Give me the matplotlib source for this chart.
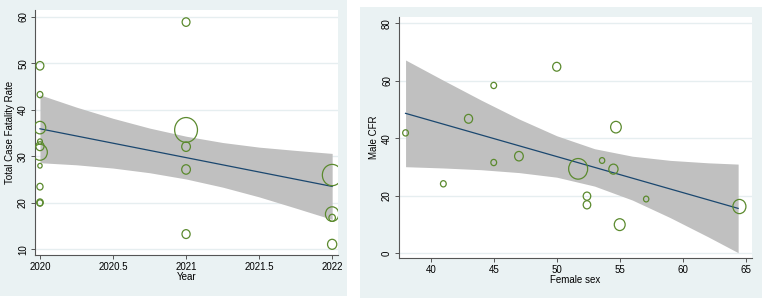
import matplotlib
matplotlib.use("Agg")
import matplotlib.pyplot as plt
from matplotlib.patches import Rectangle
from matplotlib.path import Path
import numpy as np

plt.rcParams['font.family'] = ['Liberation Sans', 'DejaVu Sans']

# ---------------- Left panel data ----------------
year = [2020, 2020, 2020, 2020, 2020, 2020, 2020, 2020, 2020, 2020,
        2021, 2021, 2021, 2021, 2021,
        2022, 2022, 2022, 2022]
total_cfr = [49.5, 43.3, 36.2, 33.2, 32.2, 30.9, 28.0, 23.5, 20.1, 20.0,
             58.9, 35.7, 32.1, 27.2, 13.3,
             26.0, 17.6, 16.8, 11.1]
weight_left = [13, 7, 28, 5, 14, 46, 4, 8, 9, 7,
               13, 110, 16, 16, 14,
               81, 38, 9, 18]
fit_left_x = [2020, 2022]
fit_left_y = [35.95, 23.55]
ci_left_x = [2020, 2020.25, 2020.5, 2020.75, 2021, 2021.25, 2021.5, 2021.75, 2022]
ci_left_hi = [43.25, 40.6, 38.2, 36.1, 34.35, 33.0, 32.0, 31.3, 30.65]
ci_left_lo = [28.65, 28.2, 27.5, 26.5, 25.15, 23.4, 21.3, 18.9, 16.45]
left_xticks = [2020, 2020.5, 2021, 2021.5, 2022]
left_xticklabels = ["2020", "2020.5", "2021", "2021.5", "2022"]
left_yticks = [10, 20, 30, 40, 50, 60]

# ---------------- Right panel data ----------------
female = [38.0, 41.0, 43.0, 45.0, 45.0, 47.0, 50.0, 51.7, 52.4, 52.4,
          53.6, 54.5, 54.7, 55.0, 57.1, 64.5]
male_cfr = [41.9, 24.2, 46.8, 58.4, 31.6, 33.8, 64.9, 29.4, 19.9, 16.9,
            32.3, 29.3, 43.9, 10.0, 18.9, 16.3]
weight_right = [7, 7, 14, 7, 7, 16, 14, 76, 12, 12,
                6, 18, 24, 25, 6, 36]
fit_right_x = [38.0, 64.4]
fit_right_y = [48.7, 15.65]
ci_right_x = [38, 41, 44, 47, 50, 53, 56, 59, 62, 64.4]
ci_right_hi = [67.25, 60.2, 53.3, 46.75, 40.9, 36.4, 33.8, 32.35, 31.5, 31.05]
ci_right_lo = [30.15, 29.7, 29.1, 28.1, 26.5, 23.4, 18.55, 12.45, 5.8, 0.25]
right_xticks = [40, 45, 50, 55, 60, 65]
right_yticks = [0, 20, 40, 60, 80]

# ---------------- Styling ----------------
BG = '#eaf2f3'
GRID = '#e6eef0'
MARKER = '#5b8a2e'
LINE = '#1a476f'
CI = '#c0c0c0'
AXC = '#555555'
FS = 7
MSCALE = 2.9

W, H = 762, 300
fig = plt.figure(figsize=(W / 100, H / 100), dpi=100)
fig.patch.set_facecolor('white')

def px_rect(x0, y0, x1, y1):
    return (x0 / W, 1 - y1 / H, (x1 - x0) / W, (y1 - y0) / H)

for (x0, y0, x1, y1) in [(0, 0, 347, 296), (360, 7, 762, 298)]:
    l, b, w, h = px_rect(x0, y0, x1, y1)
    fig.add_artist(Rectangle((l, b), w, h, transform=fig.transFigure,
                             facecolor=BG, edgecolor='none', zorder=0))

# slightly tall ellipse marker (as in reference)
circ = Path.unit_circle()
ell = Path(circ.vertices * np.array([0.92, 1.0]), circ.codes)

def style(ax):
    ax.set_facecolor('white')
    for s in ['top', 'right']:
        ax.spines[s].set_visible(False)
    for s in ['left', 'bottom']:
        ax.spines[s].set_color(AXC)
        ax.spines[s].set_linewidth(0.8)
    ax.tick_params(axis='both', direction='out', length=3, width=0.7,
                   color=AXC, labelsize=FS, pad=2)
    ax.tick_params(axis='y', labelrotation=90)
    for lab in ax.get_yticklabels():
        lab.set_va('center')
    ax.grid(axis='y', color=GRID, linewidth=1.0)
    ax.set_axisbelow(True)

def panel(rect_px, x, y, wts, fx, fy, cx, chi, clo, xlim, ylim, xticks, yticks,
          xlabel, ylabel, xticklabels=None):
    ax = fig.add_axes(px_rect(*rect_px))
    ax.fill_between(cx, clo, chi, color=CI, linewidth=0, zorder=1)
    ax.plot(fx, fy, color=LINE, linewidth=0.9, zorder=2)
    sizes = [MSCALE * w for w in wts]
    ax.scatter(x, y, s=sizes, marker=ell, facecolors='none',
               edgecolors=MARKER, linewidths=0.9, zorder=3)
    ax.set_xlim(*xlim)
    ax.set_ylim(*ylim)
    ax.set_xticks(xticks)
    if xticklabels is not None:
        ax.set_xticklabels(xticklabels)
    ax.set_yticks(yticks)
    style(ax)
    ax.set_xlabel(xlabel, fontsize=FS, labelpad=0)
    ax.set_ylabel(ylabel, fontsize=FS, labelpad=2)
    return ax

panel((35, 10, 338, 255), year, total_cfr, weight_left,
      fit_left_x, fit_left_y, ci_left_x, ci_left_hi, ci_left_lo,
      (2019.966, 2022.04), (8.8, 61.5), left_xticks, left_yticks,
      "Year", "Total Case Fatality Rate", left_xticklabels)

panel((399, 17, 752, 258), female, male_cfr, weight_right,
      fit_right_x, fit_right_y, ci_right_x, ci_right_hi, ci_right_lo,
      (37.48, 65.5), (-1.6, 82.2), right_xticks, right_yticks,
      "Female sex", "Male CFR")

fig.savefig("out.png", dpi=100, facecolor='white')
